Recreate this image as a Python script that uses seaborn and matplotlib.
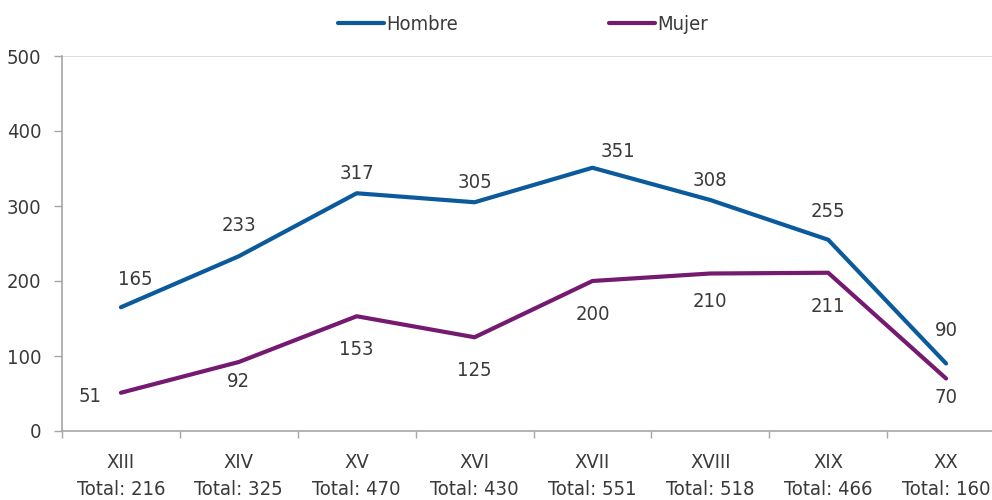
import matplotlib
matplotlib.use("Agg")
import matplotlib.pyplot as plt
import seaborn as sns
import pandas as pd
from matplotlib.lines import Line2D

categories = ["XIII", "XIV", "XV", "XVI", "XVII", "XVIII", "XIX", "XX"]
totals = [216, 325, 470, 430, 551, 518, 466, 160]
hombre = [165, 233, 317, 305, 351, 308, 255, 90]
mujer = [51, 92, 153, 125, 200, 210, 211, 70]

sns.set_theme(style="white")
plt.rcParams['font.family'] = ['DejaVu Sans']
plt.rcParams['font.stretch'] = 'condensed'
TXT = "#3A3A3A"
FS = 14.5

df = pd.DataFrame({
    "x": list(range(len(categories))) * 2,
    "valor": hombre + mujer,
    "serie": ["Hombre"] * len(categories) + ["Mujer"] * len(categories),
})

fig = plt.figure(figsize=(9.92, 5.0), dpi=100)
ax = fig.add_axes([62/992, 69/500, 943/992, 375/500])
palette = {"Hombre": "#0B5B9C", "Mujer": "#741A70"}
sns.lineplot(data=df, x="x", y="valor", hue="serie", palette=palette,
             linewidth=3, ax=ax, legend=False)

ax.set_xlim(-0.5, 7.5)
ax.set_ylim(0, 500)
ax.set_yticks([0, 100, 200, 300, 400, 500])
ax.set_xticks(range(len(categories)))
ax.set_xticklabels([f"{c}\nTotal: {t}" for c, t in zip(categories, totals)],
                   fontsize=FS, color=TXT, linespacing=1.5)
ax.tick_params(axis='x', which='major', length=0, pad=16)
ax.set_xticks([i + 0.5 for i in range(-1, len(categories))], minor=True)
ax.tick_params(axis='x', which='minor', bottom=True, length=5, color="#A6A6A6", width=1)
ax.tick_params(axis='y', left=True, length=6, color="#A6A6A6", width=1, labelsize=FS,
               labelcolor=TXT, pad=9)
ax.set_xlabel("")
ax.set_ylabel("")
for s in ["top", "right"]:
    ax.spines[s].set_visible(False)
for s in ["left", "bottom"]:
    ax.spines[s].set_color("#A6A6A6")
    ax.spines[s].set_linewidth(1.2)
ax.axhline(500, color="#D9D9D9", linewidth=1.2, zorder=0)

h_off = [(10, 20), (0, 22), (0, 14), (0, 14), (18, 12), (0, 14), (0, 20), (0, 24)]
m_off = [(-22, -3), (0, -14), (0, -24), (0, -24), (0, -24), (0, -20), (0, -24), (0, -14)]
for i, v in enumerate(hombre):
    ax.annotate(str(v), (i, v), xytext=h_off[i], textcoords="offset points",
                ha="center", va="center", fontsize=FS, color=TXT)
for i, v in enumerate(mujer):
    ax.annotate(str(v), (i, v), xytext=m_off[i], textcoords="offset points",
                ha="center", va="center", fontsize=FS, color=TXT)

handles = [Line2D([], [], color=palette["Hombre"], lw=3),
           Line2D([], [], color=palette["Mujer"], lw=3)]
fig.legend(handles, ["Hombre", "Mujer"], loc="center", bbox_to_anchor=(0.527, 0.95),
           ncol=2, frameon=False, fontsize=FS, handlelength=2.3, handletextpad=0.1,
           columnspacing=7.5, labelcolor=TXT)

fig.savefig("out.png", dpi=100)
